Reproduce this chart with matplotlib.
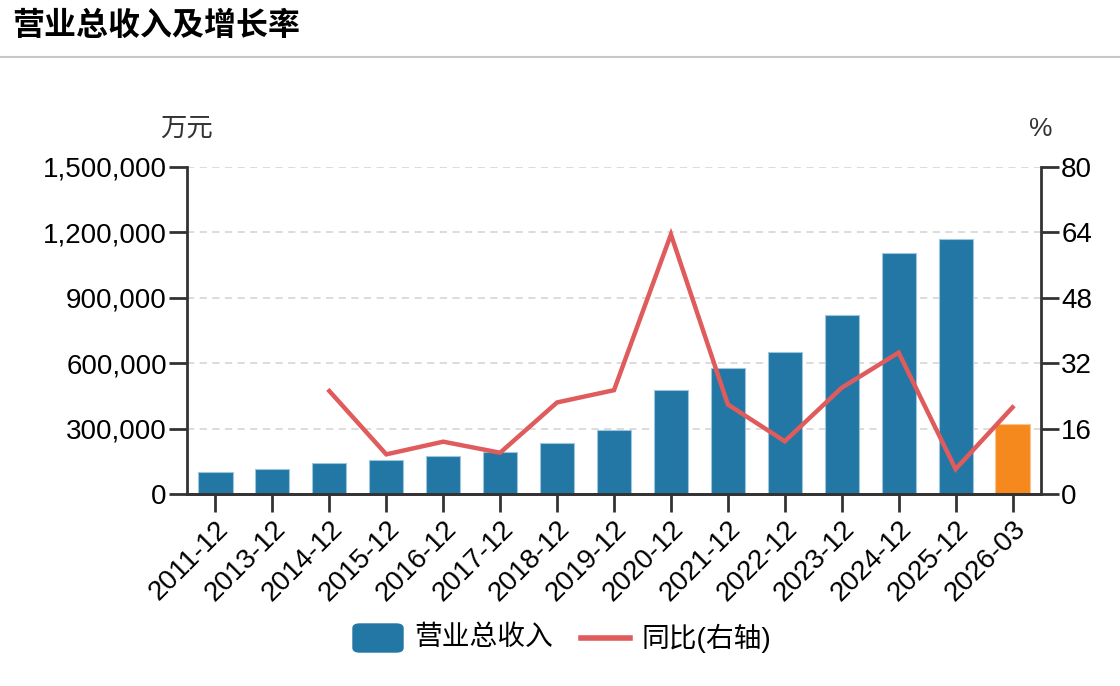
import numpy as np
import matplotlib
matplotlib.use('Agg')
import matplotlib.pyplot as plt
from matplotlib.patches import FancyBboxPatch
from matplotlib.lines import Line2D
from matplotlib.ticker import FuncFormatter

plt.rcParams['font.family'] = ['Liberation Sans', 'Noto Sans CJK SC', 'DejaVu Sans']

periods = ['2011-12', '2013-12', '2014-12', '2015-12', '2016-12', '2017-12', '2018-12',
           '2019-12', '2020-12', '2021-12', '2022-12', '2023-12', '2024-12', '2025-12', '2026-03']
revenue = [99500, 113000, 140600, 154000, 172700, 191000, 232000,
           292000, 475000, 578000, 652000, 820000, 1104000, 1168000, 322000]
growth = [np.nan, np.nan, 25.2, 9.7, 12.8, 10.1, 22.4,
          25.4, 63.5, 21.9, 12.9, 26.0, 34.6, 6.1, 21.2]

BLUE = '#2377a4'
ORANGE = '#f5891e'
RED = '#e05b5b'
AXC = '#333333'

W, H = 1120, 686
fig = plt.figure(figsize=(W / 100, H / 100), dpi=100)
ax = fig.add_axes([187 / W, 1 - 494 / H, (1041 - 187) / W, (494 - 167) / H])
ax2 = ax.twinx()

x = np.arange(len(periods))
colors = [BLUE] * (len(periods) - 1) + [ORANGE]
edges = ['#9cc6dd'] * (len(periods) - 1) + ['#fbc48e']
ax.bar(x, revenue, width=0.6, color=colors, edgecolor=edges, linewidth=0.8, zorder=2)
ax2.plot(x, growth, color=RED, linewidth=3.2, zorder=3, solid_joinstyle='miter')

ax.set_xlim(-0.5, len(periods) - 0.5)
ax.set_ylim(0, 1500000)
ax.set_yticks(np.arange(0, 1500001, 300000))
ax.yaxis.set_major_formatter(FuncFormatter(lambda v, p: f'{int(v):,}'))
ax2.set_ylim(0, 80)
ax2.set_yticks(np.arange(0, 81, 16))

ax.grid(axis='y', color='#d9d9d9', linestyle=(0, (4, 3)), linewidth=1.3, zorder=0)
ax.set_axisbelow(True)

for a in (ax, ax2):
    a.spines['top'].set_visible(False)
    for s in ['left', 'right', 'bottom']:
        a.spines[s].set_color(AXC)
        a.spines[s].set_linewidth(2)
    a.tick_params(colors=AXC, width=2, length=13, labelsize=20, labelcolor='black', pad=1.5)
ax2.spines['left'].set_visible(False)
ax.spines['right'].set_visible(False)

ax.set_xticks(x)
ax.set_xticklabels(periods, rotation=45, ha='right', rotation_mode='anchor')
ax.tick_params(axis='x', pad=3)

fig.text(12 / W, 1 - 27 / H, '营业总收入及增长率', fontsize=23, fontweight='bold',
         va='center', ha='left')
fig.add_artist(Line2D([0, 1], [1 - 57 / H, 1 - 57 / H], color='#c8c8c8', linewidth=1.5))
fig.text(186 / W, 1 - 129 / H, '万元', fontsize=19, ha='center', va='center', color='#333333')
fig.text(1041 / W, 1 - 129 / H, '%', fontsize=19, ha='center', va='center', color='#333333')

# legend
fig.add_artist(FancyBboxPatch((353 / W, 1 - 652 / H), 50 / W, 28 / H,
                              boxstyle='round,pad=0,rounding_size=0.006',
                              transform=fig.transFigure, color=BLUE))
fig.text(414 / W, 1 - 638 / H, '营业总收入', fontsize=20, va='center', ha='left')
fig.add_artist(Line2D([581 / W, 630 / W], [1 - 638 / H, 1 - 638 / H], color=RED, linewidth=4))
fig.text(642 / W, 1 - 638 / H, '同比(右轴)', fontsize=20, va='center', ha='left')

fig.savefig('out.png', dpi=100)
